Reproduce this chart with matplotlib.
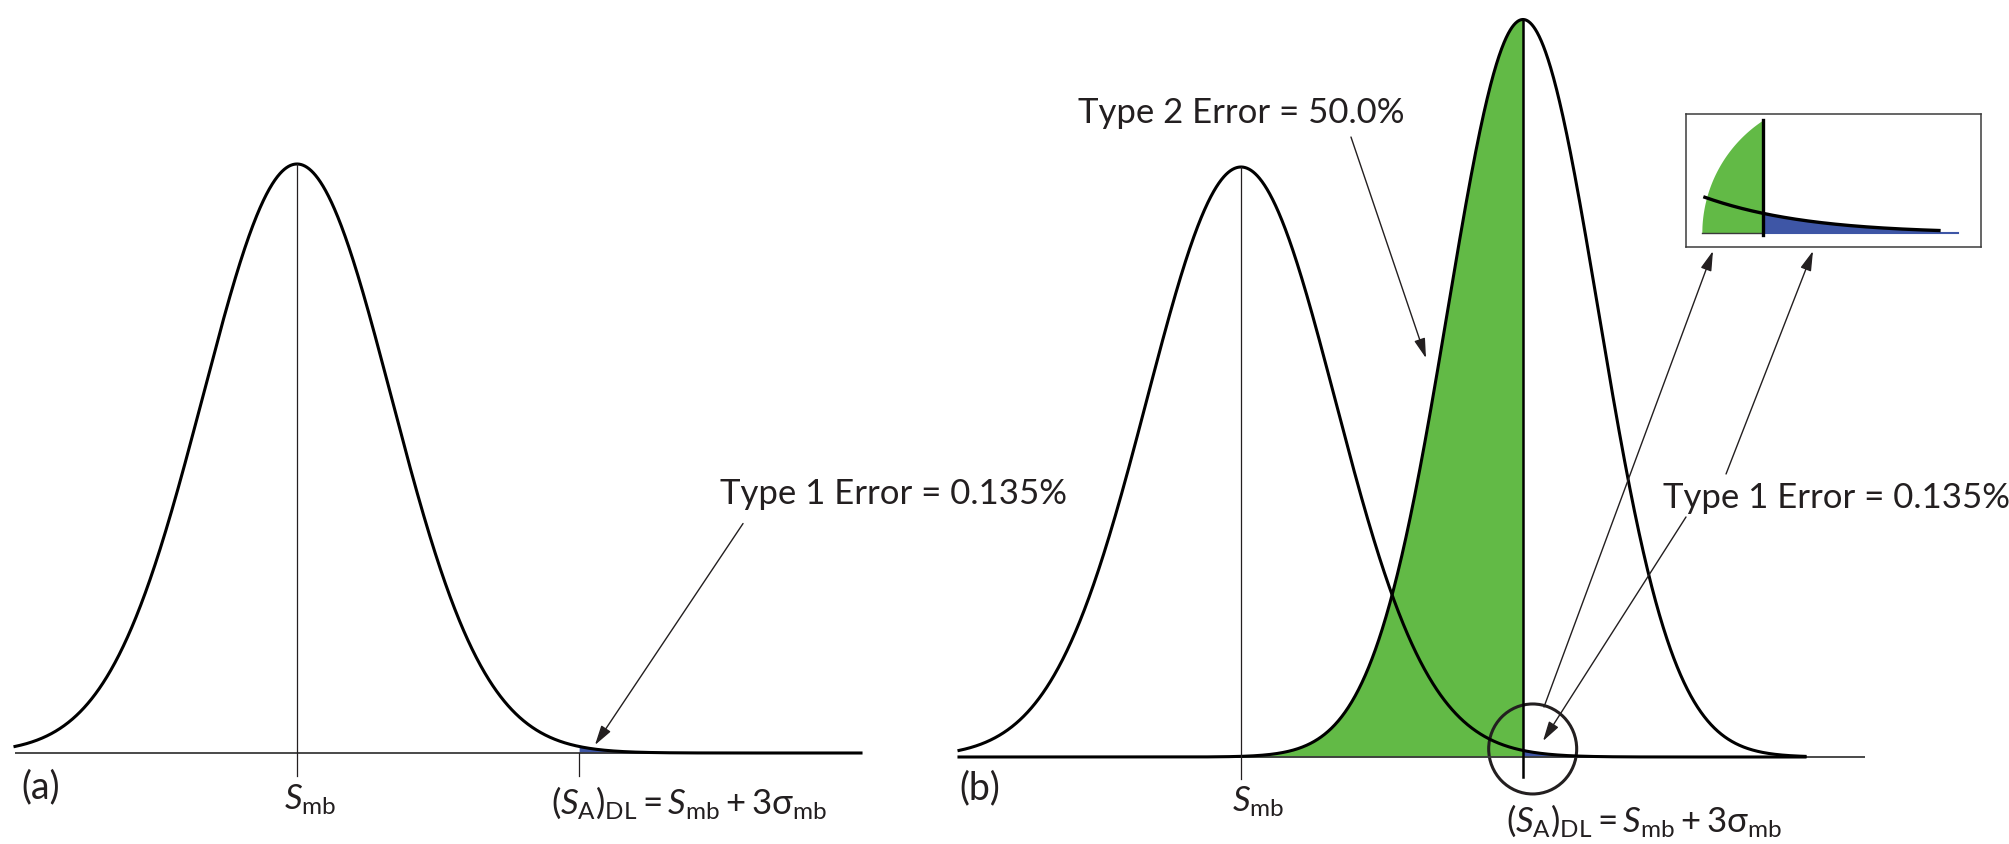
import numpy as np
import matplotlib
matplotlib.use("Agg")
import matplotlib.pyplot as plt
from matplotlib.patches import Ellipse

# ---------------- data (units of sigma_mb) ----------------
blank_mean = 0.0          # S_mb
blank_sd = 1.0            # sigma_mb
k_dl = 3.0                # (S_A)_DL = S_mb + 3 sigma_mb
sample_mean = 3.0         # sample centred on the detection limit (panel b)
sample_sd = 0.8
curve_range = (-3.0, 6.0)
type1_text = "Type 1 Error = 0.135%"
type2_text = "Type 2 Error = 50.0%"
panel_labels = ["(a)", "(b)"]
smb_label = r"$\mathit{S}_{\mathrm{mb}}$"
dl_label = r"$(\mathit{S}_{\mathrm{A}})_{\mathrm{DL}} = \mathit{S}_{\mathrm{mb}} + 3\mathrm{\sigma}_{\mathrm{mb}}$"

GREEN = "#62BA46"
BLUE = "#3E56A6"
INK = "#231F20"

plt.rcParams["font.family"] = ["Lato", "DejaVu Sans"]
plt.rcParams["mathtext.fontset"] = "custom"
plt.rcParams["mathtext.rm"] = "Lato"
plt.rcParams["mathtext.it"] = "Lato:italic"
plt.rcParams["mathtext.bf"] = "Lato:bold"
plt.rcParams["mathtext.sf"] = "Lato"
plt.rcParams["mathtext.fallback"] = "stixsans"

FS = 25
FS_LAB = 27


def curve(x, mu, sd):
    # normal curve scaled so that the blank distribution peaks at 1
    return (blank_sd / sd) * np.exp(-0.5 * ((x - mu) / sd) ** 2)


W, H = 2009, 844
fig = plt.figure(figsize=(W / 100, H / 100), dpi=100)

x = np.linspace(curve_range[0], curve_range[1], 2000)
yb = curve(x, blank_mean, blank_sd)
ys = curve(x, sample_mean, sample_sd)
dl = blank_mean + k_dl * blank_sd

arrow_kw = dict(arrowstyle="-|>,head_length=0.6,head_width=0.17", color=INK,
                lw=1.0, shrinkA=0, shrinkB=0, mutation_scale=20)

# ---------------- panel (a) ----------------
sx, x0, base, hpx = 94.0, 297.0, 753.0, 589.0
axA = fig.add_axes([0, 0, 1, 1])
axA.set_xlim(-x0 / sx, (W - x0) / sx)
axA.set_ylim(-(H - base) / hpx, base / hpx)
axA.axis("off")

axA.plot(curve_range, [0, 0], color="#3a3a3a", lw=1.3, solid_capstyle="butt")
m = x >= dl
axA.fill_between(x[m], 0, yb[m], color=BLUE, lw=0)
axA.plot(x, yb, color="black", lw=2.2)
axA.plot([blank_mean, blank_mean], [-0.039, curve(blank_mean, blank_mean, blank_sd)],
         color=INK, lw=0.9)
axA.plot([dl, dl], [-0.039, 0.0], color=INK, lw=0.9)

axA.text(-2.93, -0.058, panel_labels[0], fontsize=FS_LAB, color=INK, va="center", ha="left")
axA.text(-0.14, -0.0968, smb_label, fontsize=FS, color=INK, ha="left", va="baseline")
axA.text(2.70, -0.1036, dl_label, fontsize=FS, color=INK, ha="left", va="baseline")
axA.text(4.5, 0.4228, type1_text, fontsize=FS, color=INK, ha="left", va="baseline")
axA.annotate("", xy=(3.17, 0.0136), xytext=(4.745, 0.3896), arrowprops=arrow_kw)

# ---------------- panel (b) ----------------
x0b, baseb, hpxb = 1241.0, 757.0, 590.0
axB = fig.add_axes([0, 0, 1, 1])
axB.set_xlim(-x0b / sx, (W - x0b) / sx)
axB.set_ylim(-(H - baseb) / hpxb, baseb / hpxb)
axB.axis("off")
axB.patch.set_alpha(0)

axB.plot([curve_range[0], 6.64], [0, 0], color="#3a3a3a", lw=1.3, solid_capstyle="butt")
mg = x <= dl
axB.fill_between(x[mg], 0, ys[mg], color=GREEN, lw=0)
axB.fill_between(x[m], 0, yb[m], color=BLUE, lw=0)
axB.plot(x, yb, color="black", lw=2.2)
axB.plot(x, ys, color="black", lw=2.2)
axB.plot([blank_mean, blank_mean], [-0.037, 1.0], color=INK, lw=0.9)
axB.plot([dl, dl], [-0.034, curve(sample_mean, sample_mean, sample_sd)], color="black", lw=1.8)

axB.add_patch(Ellipse((3.103, 0.0136), width=88 / sx, height=90 / hpxb,
                      fill=False, edgecolor=INK, lw=2.2))

axB.text(-3.0, -0.0525, panel_labels[1], fontsize=FS_LAB, color=INK, va="center", ha="left")
axB.text(-0.096, -0.093, smb_label, fontsize=FS, color=INK, ha="left", va="baseline")
axB.text(2.82, -0.127, dl_label, fontsize=FS, color=INK, ha="left", va="baseline")
axB.text(-1.734, 1.0746, type2_text, fontsize=FS, color=INK, ha="left", va="baseline")
axB.annotate("", xy=(1.968, 0.676), xytext=(1.170, 1.0508), arrowprops=arrow_kw)
axB.text(4.489, 0.422, type1_text, fontsize=FS, color=INK, ha="left", va="baseline")
axB.annotate("", xy=(3.213, 0.0271), xytext=(4.734, 0.4068), arrowprops=arrow_kw)
axB.annotate("", xy=(6.085, 0.8576), xytext=(5.16, 0.4797), arrowprops=arrow_kw)
axB.annotate("", xy=(5.021, 0.8576), xytext=(3.223, 0.0847), arrowprops=arrow_kw)

# ---------------- inset: 3x magnification around the detection limit ----------------
mag = 3.0
box = (1686, 114, 1981, 247)  # px (left, top, right, bottom)
axI = fig.add_axes([box[0] / W, (H - box[3]) / H, (box[2] - box[0]) / W, (box[3] - box[1]) / H])
xl = dl - (1763 - box[0]) / (sx * mag)
axI.set_xlim(xl, xl + (box[2] - box[0]) / (sx * mag))
yl = -(box[3] - 233) / (hpxb * mag)
axI.set_ylim(yl, yl + (box[3] - box[1]) / (hpxb * mag))
axI.set_xticks([])
axI.set_yticks([])
for s in axI.spines.values():
    s.set_color("#3c3c3c")
    s.set_linewidth(1.1)

cx, rx, ry = 3.262, 0.479, 0.0763
xi = np.linspace(cx - rx, dl, 400)
arc = ry * np.sqrt(np.clip(1 - ((xi - cx) / rx) ** 2, 0, None))
axI.fill_between(xi, 0, np.minimum(arc, curve(xi, sample_mean, sample_sd)), color=GREEN, lw=0)
axI.plot([cx - rx, dl], [0, 0], color="#3a3a3a", lw=1.0)
xt = np.linspace(dl, 3.624, 300)
axI.fill_between(xt, 0, curve(xt, blank_mean, blank_sd), color=BLUE, lw=0)
axI.plot([dl, 3.691], [0, 0], color=BLUE, lw=1.5)
xc = np.linspace(2.794, 3.624, 300)
axI.plot(xc, curve(xc, blank_mean, blank_sd), color="black", lw=2.4)
axI.plot([dl, dl], [-0.0012, ry * np.sqrt(1 - ((dl - cx) / rx) ** 2)], color="black", lw=2.4)

fig.savefig("out.png", dpi=100)
